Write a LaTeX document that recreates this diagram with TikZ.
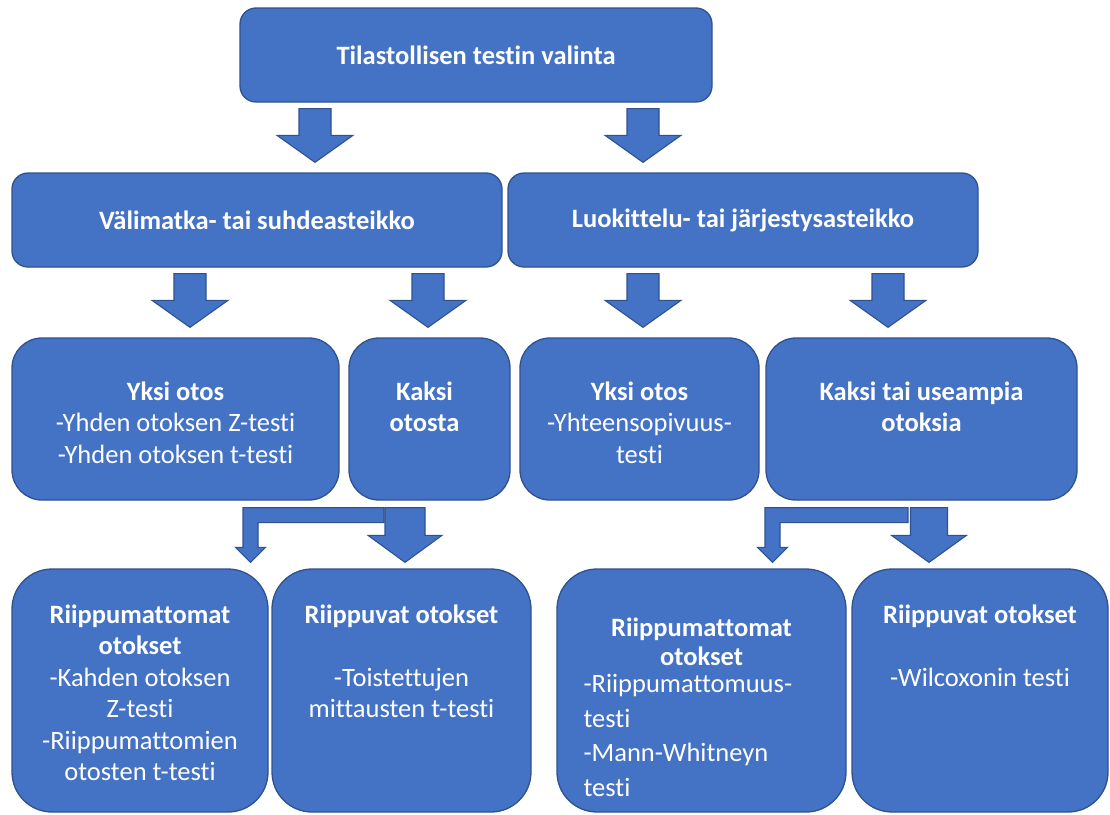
\documentclass[tikz,border=0pt]{standalone}
\usepackage{fontspec}
\setmainfont{Carlito}[Ligatures={NoCommon,NoContextual}, Contextuals=NoAlternate]
\usepackage{tikz}
\usetikzlibrary{positioning, calc}

\definecolor{OfficeBlue}{RGB}{68,114,196}
\definecolor{OfficeEdge}{RGB}{47,82,143}

\tikzset{
  box/.style={draw=OfficeEdge, fill=OfficeBlue, line width=1.3pt, inner sep=0pt},
  topbox/.style={box, rounded corners=16pt, minimum height=94pt},
  midbox/.style={box, rounded corners=30pt, minimum height=162pt},
  lowbox/.style={box, rounded corners=40pt, minimum height=243pt},
  txt/.style={text=white, inner sep=0pt, align=center,
              font=\fontsize{26.5}{31.5}\selectfont},
  blockarrow/.style={draw=OfficeEdge, fill=OfficeBlue, line width=1.1pt},
}

% fat arrow: x, from, to, shaft half, head half, gap above, gap below
\newcommand{\blockdown}[7]{%
  \draw[blockarrow] let \p1=(#2.south), \p2=(#3.north) in
    (#1pt-#4pt,\y1-#6pt) -- (#1pt+#4pt,\y1-#6pt) -- (#1pt+#4pt,\y2+#7pt+27pt)
    -- (#1pt+#5pt,\y2+#7pt+27pt) -- (#1pt,\y2+#7pt) -- (#1pt-#5pt,\y2+#7pt+27pt)
    -- (#1pt-#4pt,\y2+#7pt+27pt) -- cycle;}
% bent arrow: x of leg, right end of bar, from, to
\newcommand{\blockbend}[4]{%
  \draw[blockarrow] let \p1=(#3.south), \p2=(#4.north) in
    (#1pt-7.5pt,\y1-7pt) -- (#2pt,\y1-7pt) -- (#2pt,\y1-22pt)
    -- (#1pt+7.5pt,\y1-22pt) -- (#1pt+7.5pt,\y2+21pt) -- (#1pt+15pt,\y2+21pt)
    -- (#1pt,\y2+6pt) -- (#1pt-15pt,\y2+21pt) -- (#1pt-7.5pt,\y2+21pt) -- cycle;}

\begin{document}
\begin{tikzpicture}[x=1pt, y=-1pt]
  \useasboundingbox (0,0) rectangle (1110,814);

  % Top level
  \node[topbox, txt, minimum width=472pt] (valinta) at (476,55)
    {\textbf{Tilastollisen testin valinta}};

  % Scales
  \node[topbox, txt, minimum width=490pt] (valimatka) at (257,220)
    {\textbf{Välimatka- tai suhdeasteikko}};
  \node[topbox, txt, minimum width=470pt] (luokittelu) at (743,220)
    {\textbf{Luokittelu- tai järjestysasteikko}};

  % Number of samples
  \node[midbox, minimum width=327pt] (yksiA)  at (175.5,419) {};
  \node[midbox, minimum width=161pt] (kaksiA) at (429.5,419) {};
  \node[midbox, minimum width=239pt] (yksiB)  at (639.5,419) {};
  \node[midbox, minimum width=311pt] (kaksiB) at (921.5,419) {};

  \node[txt, below=44pt of yksiA.north] (tyksiA)
    {\textbf{Yksi otos}\\-Yhden otoksen Z-testi\\-Yhden otoksen t-testi};
  \node[txt, below=44pt of kaksiA.north, xshift=-5pt] (tkaksiA)
    {\textbf{Kaksi}\\\textbf{otosta}};
  \node[txt, below=44pt of yksiB.north] (tyksiB)
    {\textbf{Yksi otos}\\-Yhteensopivuus-\\testi};
  \node[txt, below=44pt of kaksiB.north] (tkaksiB)
    {\textbf{Kaksi tai useampia}\\\textbf{otoksia}};

  % Dependent / independent samples
  \node[lowbox, minimum width=256pt] (riipmA) at (140,690.5) {};
  \node[lowbox, minimum width=259pt] (riipvA) at (401.5,690.5) {};
  \node[lowbox, minimum width=289pt] (riipmB) at (701.5,690.5) {};
  \node[lowbox, minimum width=256pt] (riipvB) at (980,690.5) {};

  \node[txt, below=36pt of riipmA.north] (triipmA)
    {\textbf{Riippumattomat}\\\textbf{otokset}\\-Kahden otoksen\\Z-testi\\
     -Riippumattomien\\otosten t-testi};
  \node[txt, below=36pt of riipvA.north] (triipvA)
    {\textbf{Riippuvat otokset}\\[31.5pt]-Toistettujen\\mittausten t-testi};
  \node[txt, below=49pt of riipmB.north, font=\fontsize{26.5}{29}\selectfont]
    (triipmB) {\textbf{Riippumattomat}\\\textbf{otokset}};
  \node[txt, align=left, anchor=north west, font=\fontsize{26.5}{34.5}\selectfont]
    (triipmBx) at ($(triipmB.south -| riipmB.west)+(27pt,-9pt)$)
    {-Riippumattomuus-\\testi\\-Mann-Whitneyn\\testi};
  \node[txt, below=36pt of riipvB.north] (triipvB)
    {\textbf{Riippuvat otokset}\\[31.5pt]-Wilcoxonin testi};

  % Arrows
  \blockdown{315}{valinta}{valimatka}{16}{38}{6}{10}
  \blockdown{643}{valinta}{luokittelu}{16}{38}{6}{10}
  \blockdown{190}{valimatka}{yksiA}{16}{38}{6}{10}
  \blockdown{428}{valimatka}{kaksiA}{16}{38}{6}{10}
  \blockdown{643}{luokittelu}{yksiB}{16}{38}{6}{10}
  \blockdown{888}{luokittelu}{kaksiB}{16}{38}{6}{10}

  \blockbend{250.5}{384}{kaksiA}{riipmA}
  \blockdown{405}{kaksiA}{riipvA}{20}{37}{7}{6}
  \blockbend{772.5}{908}{kaksiB}{riipmB}
  \blockdown{929}{kaksiB}{riipvB}{18.5}{37.5}{7}{6}
\end{tikzpicture}
\end{document}
